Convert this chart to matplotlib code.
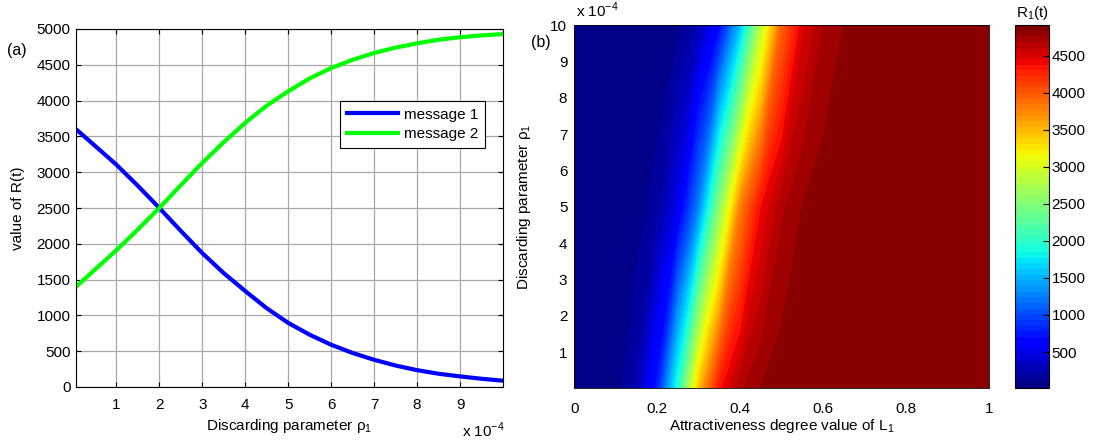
import matplotlib
matplotlib.use('Agg')
import matplotlib.pyplot as plt
import numpy as np
from matplotlib import cm, colors

plt.rcParams['font.family'] = ['Liberation Sans', 'DejaVu Sans']
plt.rcParams['mathtext.fontset'] = 'custom'
plt.rcParams['mathtext.rm'] = 'Liberation Sans'

# ---- data (a): R(t) vs discarding parameter rho_1 (units of 1e-4)
rho_line = [0.06, 0.5, 1, 1.5, 2, 2.5, 3, 3.5, 4, 4.5, 5,
            5.5, 6, 6.5, 7, 7.5, 8, 8.5, 9, 9.5, 10]
msg1 = [3600, 3370, 3105, 2810, 2500, 2180, 1870, 1590, 1340, 1100, 895,
        730, 590, 475, 380, 300, 235, 185, 148, 115, 88]
msg2 = [1400, 1640, 1910, 2200, 2500, 2820, 3130, 3420, 3690, 3930, 4130,
        4310, 4455, 4570, 4665, 4740, 4800, 4850, 4885, 4910, 4930]

# ---- data (b): R_1(t) over attractiveness L_1 (columns) and rho_1 (rows, 1e-4)
L_vals = [0, 0.05, 0.1, 0.15, 0.2, 0.25, 0.3, 0.35, 0.4, 0.45, 0.5,
          0.55, 0.6, 0.65, 0.7, 0.75, 0.8, 0.85, 0.9, 0.95, 1.0]
rho_rows = [0.01, 5, 10]
R_low = [14, 18, 65, 229, 747, 1950, 3473, 4380, 4700, 4820, 4880,
         4905, 4912, 4915, 4915, 4915, 4915, 4915, 4915, 4915, 4915]
R_mid = [14, 14, 17, 52, 162, 477, 1247, 2543, 3795, 4420, 4700,
         4820, 4880, 4905, 4912, 4915, 4915, 4915, 4915, 4915, 4915]
R_high = [14, 14, 14, 14, 27, 81, 235, 645, 1535, 2836, 3951,
          4500, 4720, 4820, 4875, 4900, 4910, 4914, 4915, 4915, 4915]
cbar_ticks = [500, 1000, 1500, 2000, 2500, 3000, 3500, 4000, 4500]

W, H = 1096, 443
fig = plt.figure(figsize=(W / 100, H / 100), dpi=100)

# ---------------- panel (a)
ax1 = fig.add_axes([76 / W, 1 - 387 / H, 427 / W, 358 / H])
ax1.plot(rho_line, msg1, color='#0000ff', lw=3, label='message 1')
ax1.plot(rho_line, msg2, color='#00ff00', lw=3, label='message 2')
ax1.set_xlim(0.06, 10)
ax1.set_ylim(0, 5000)
ax1.set_xticks(range(1, 10))
ax1.set_yticks(range(0, 5001, 500))
ax1.grid(True, color='#a8a8a8', lw=0.9)
ax1.set_axisbelow(True)
ax1.tick_params(direction='in', top=True, right=True, length=3.5,
                labelsize=11, width=0.8)
ax1.tick_params(axis='x', pad=8)
ax1.tick_params(axis='y', pad=4)
for s in ax1.spines.values():
    s.set_linewidth(0.8)
ax1.set_xlabel('Discarding parameter ρ$_\\mathregular{1}$', fontsize=11)
ax1.xaxis.set_label_coords(0.5, -0.083)
ax1.set_ylabel('value of R(t)', fontsize=11)
ax1.yaxis.set_label_coords(-0.119, 0.5)
leg = ax1.legend(loc='upper right', bbox_to_anchor=(0.958, 0.799),
                 fontsize=11, handlelength=3.3, handletextpad=0.4,
                 borderaxespad=0, fancybox=False, framealpha=1,
                 edgecolor='black', borderpad=0.45, labelspacing=0.35)
leg.get_frame().set_linewidth(0.8)
fig.text(462 / W, 1 - 437 / H, 'x 10$^{\\mathregular{-4}}$', fontsize=11,
         va='baseline')
fig.text(17 / W, 1 - 50 / H, '(a)', fontsize=11.5, ha='center', va='center')

# ---------------- panel (b)
jet = plt.get_cmap('jet')
norm = colors.Normalize(vmin=14, vmax=4915)
ax2 = fig.add_axes([574.3 / W, 1 - 388 / H, 415 / W, 363 / H])
Z = np.array([R_low, R_mid, R_high])
ax2.contourf(L_vals, rho_rows, Z, levels=np.linspace(14, 4916, 51),
             cmap=jet, norm=norm)
ax2.set_xlim(0, 1)
ax2.set_ylim(0.01, 10)
ax2.set_xticks([0, 0.2, 0.4, 0.6, 0.8, 1])
ax2.set_xticklabels(['0', '0.2', '0.4', '0.6', '0.8', '1'])
ax2.set_yticks(range(1, 11))
ax2.tick_params(length=0, labelsize=11)
ax2.tick_params(axis='x', pad=10)
ax2.tick_params(axis='y', pad=5)
for s in ax2.spines.values():
    s.set_linewidth(0.6)
ax2.set_xlabel('Attractiveness degree value of L$_\\mathregular{1}$', fontsize=11)
ax2.xaxis.set_label_coords(0.5, -0.08)
ax2.set_ylabel('Discarding parameter ρ$_\\mathregular{1}$', fontsize=11)
ax2.yaxis.set_label_coords(-0.0995, 0.5)
fig.text(576 / W, 1 - 17.5 / H, 'x 10$^{\\mathregular{-4}}$', fontsize=11,
         va='baseline')
fig.text(541 / W, 1 - 43 / H, '(b)', fontsize=11.5, ha='center', va='center')

# colorbar
cax = fig.add_axes([1014.6 / W, 1 - 388 / H, 34.1 / W, 363 / H])
sm = cm.ScalarMappable(norm=norm, cmap=jet.resampled(64))
cb = fig.colorbar(sm, cax=cax, ticks=cbar_ticks)
cb.ax.tick_params(direction='in', length=4, labelsize=11, pad=2, width=0.8)
cb.outline.set_linewidth(0.8)
fig.text(1033 / W, 1 - 13 / H, 'R$_\\mathregular{1}$(t)', fontsize=11,
         ha='center', va='center')

fig.savefig('out.png', dpi=100)
